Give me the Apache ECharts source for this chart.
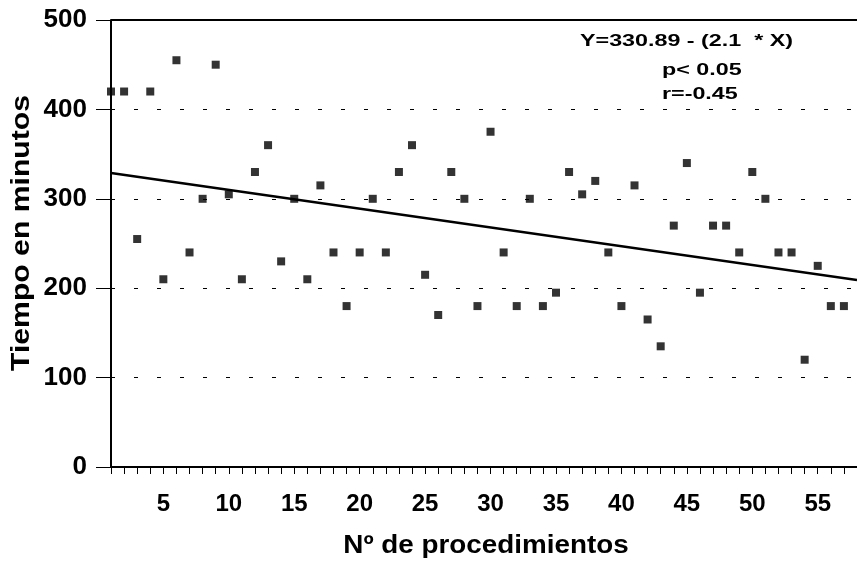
<!DOCTYPE html>
<html>
<head>
<meta charset="utf-8">
<script src="https://cdn.jsdelivr.net/npm/echarts@6/dist/echarts.min.js"></script>
<style>
  html, body { margin: 0; padding: 0; background: #fff; }
  #chart { width: 857px; height: 564px; }
</style>
</head>
<body>
<div id="chart"></div>
<script>
// Procedure number and duration (minutes)
const procedimientos = [1,2,3,4,5,6,7,8,9,10,11,12,13,14,15,16,17,18,19,20,21,22,23,24,25,26,27,28,29,30,31,32,33,34,35,36,37,38,39,40,41,42,43,44,45,46,47,48,49,50,51,52,53,54,55,56,57];
const minutos = [420,420,255,420,210,455,240,300,450,305,210,330,360,230,300,210,315,240,180,240,300,240,330,360,215,170,330,300,180,375,240,180,300,180,195,330,305,320,240,180,315,165,135,270,340,195,270,270,240,330,300,240,240,120,225,180,180];

// Fitted regression: Y = a - b * X
const intercepto = 330.89;
const pendiente = 2.1;
const xRango = [1, 58];

const xTickLabels = [5,10,15,20,25,30,35,40,45,50,55];
const xMinorTicks = [];
for (let i = xRango[0]; i <= xRango[1]; i++) xMinorTicks.push(i);

const tituloX = 'Nº de procedimientos';
const tituloY = 'Tiempo en minutos';
const anotaciones = ['Y=330.89 - (2.1  * X)', 'p< 0.05', 'r=-0.45'];

const FONT = '"Liberation Sans", Arial, Helvetica, sans-serif';
const INK = '#000';

const puntos = procedimientos.map((x, i) => [x, minutos[i]]);
const recta = xRango.map(x => [x, intercepto - pendiente * x]);

function texto(t, x, y, size, scaleX, extra) {
  return Object.assign({
    type: 'text', x: x, y: y, scaleX: scaleX,
    style: { text: t, font: 'bold ' + size + 'px ' + FONT, fill: INK, align: 'left', verticalAlign: 'top' }
  }, extra || {});
}

const chart = echarts.init(document.getElementById('chart'), null, { renderer: 'canvas' });
chart.setOption({
  animation: false,
  backgroundColor: '#fff',
  grid: { left: 111, right: 0, top: 20, bottom: 97 },
  xAxis: {
    type: 'value',
    min: xRango[0],
    max: xRango[1],
    axisLine: { lineStyle: { color: INK, width: 2 } },
    axisTick: { show: true, customValues: xMinorTicks, length: 7, lineStyle: { color: INK, width: 1 } },
    axisLabel: { customValues: xTickLabels, margin: 25, fontFamily: FONT, fontSize: 24, fontWeight: 'bold', color: INK },
    splitLine: { show: false }
  },
  yAxis: {
    type: 'value',
    min: 0,
    max: 500,
    interval: 100,
    axisLine: { show: true, lineStyle: { color: INK, width: 2 } },
    axisTick: { show: true, length: 15, lineStyle: { color: INK, width: 1 } },
    axisLabel: { margin: 24, fontFamily: FONT, fontSize: 26, fontWeight: 'bold', color: INK },
    splitLine: { show: true, lineStyle: { color: INK, width: 1, type: [4, 19] } }
  },
  series: [
    {
      type: 'scatter',
      data: puntos,
      symbol: 'rect',
      symbolSize: 8,
      itemStyle: { color: INK },
      markLine: {
        silent: true,
        symbol: 'none',
        label: { show: false },
        lineStyle: { color: INK, width: 2, type: 'solid' },
        data: [{ yAxis: 500 }]
      }
    },
    {
      type: 'line',
      data: recta,
      showSymbol: false,
      lineStyle: { color: INK, width: 2.5 },
      z: 3
    }
  ],
  graphic: [
    texto(anotaciones[0], 580, 33, 17, 1.37),
    texto(anotaciones[1], 662, 62, 17, 1.37),
    texto(anotaciones[2], 662, 86, 17, 1.37),
    {
      type: 'text', x: 486, y: 546, scaleX: 1.07,
      style: { text: tituloX, font: 'bold 26px ' + FONT, fill: INK, align: 'center', verticalAlign: 'middle' }
    },
    {
      type: 'text', x: 22, y: 233, scaleX: 1.16, rotation: Math.PI / 2,
      style: { text: tituloY, font: 'bold 26px ' + FONT, fill: INK, align: 'center', verticalAlign: 'middle' }
    }
  ]
});
</script>
</body>
</html>
